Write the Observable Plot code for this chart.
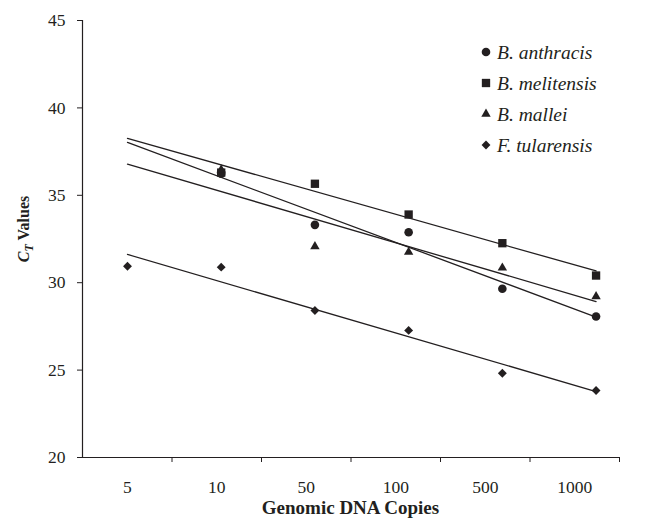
<!DOCTYPE html>
<html><head><meta charset="utf-8">
<script src="https://cdn.jsdelivr.net/npm/d3@7"></script>
<script src="https://cdn.jsdelivr.net/npm/@observablehq/plot@0.6"></script>
<style>
body{margin:0;background:#fff}
#wrap{width:646px;height:518px}
svg text{font-family:"Liberation Serif","Times New Roman",serif}
</style>
</head><body><div id="wrap"></div>
<script>
// ---- data ----
const copies = ["5", "10", "50", "100", "500", "1000"];
const seriesNames = ["B. anthracis", "B. melitensis", "B. mallei", "F. tularensis"];
const anthracis  = [null, 36.23, 33.31, 32.89, 29.65, 28.07];
const melitensis = [null, 36.30, 35.66, 33.90, 32.26, 30.41];
const mallei     = [null, 36.46, 32.07, 31.75, 30.85, 29.21];
const tularensis = [30.94, 30.89, 28.41, 27.27, 24.82, 23.83];
const yTicks = [20, 25, 30, 35, 40, 45];

// ---- config ----
const ink = "#231f20";
const xDomain = [0.52, 6.25];
const symbols = [d3.symbolCircle, d3.symbolSquare, d3.symbolTriangle, d3.symbolDiamond2];
const radii = [4.3, 4.7, 3.5, 4.0];
const valuesBySeries = [anthracis, melitensis, mallei, tularensis];

const rows = valuesBySeries.map((vals, s) =>
  vals.map((v, i) => ({series: seriesNames[s], s, x: i + 1, ct: v})).filter(d => d.ct != null));

// least-squares trend lines, extended over all categories
const trends = rows.map((pts, s) => {
  const mx = d3.mean(pts, d => d.x), my = d3.mean(pts, d => d.ct);
  const sxy = d3.sum(pts, d => (d.x - mx) * (d.ct - my));
  const sxx = d3.sum(pts, d => (d.x - mx) ** 2);
  const b = sxy / sxx, a = my - b * mx;
  return [1, copies.length].map(x => ({s, x, ct: a + b * x}));
});

const n = copies.length;
const band = (xDomain[1] - xDomain[0]) / n;
const labelPos = copies.map((c, i) => xDomain[0] + (i + 0.5) * band);
const boundaryPos = d3.range(1, n + 1).map(k => xDomain[0] + k * band);

const marks = [];
trends.forEach(t => marks.push(Plot.line(t, {x: "x", y: "ct", stroke: ink, strokeWidth: 1.3})));
rows.forEach((pts, s) => marks.push(Plot.dot(pts, {x: "x", y: "ct", symbol: symbols[s], r: radii[s], fill: ink, stroke: "none"})));

const plot = Plot.plot({
  width: 646, height: 518,
  marginLeft: 82, marginRight: 27, marginTop: 20, marginBottom: 61,
  style: {fontFamily: '"Liberation Serif", serif', fontSize: "17.5px", color: ink, background: "#fff"},
  x: {type: "linear", domain: xDomain},
  y: {domain: [20, 45]},
  marks: [
    Plot.ruleY([20], {stroke: ink, strokeWidth: 1.2}),
    Plot.ruleX([xDomain[0]], {stroke: ink, strokeWidth: 1.2}),
    Plot.axisY({ticks: yTicks, tickSize: 5, tickPadding: 12, label: null, stroke: ink, fill: ink}),
    Plot.axisX({ticks: labelPos, tickSize: 0, tickPadding: 23, tickFormat: (d, i) => copies[i], label: null, fill: ink}),
    Plot.axisX({ticks: boundaryPos, tickSize: 5, tickFormat: () => "", label: null, stroke: ink}),
    ...marks
  ]
});
document.getElementById("wrap").appendChild(plot);

const svg = d3.select(plot);
// axis titles
svg.append("text").attr("x", (82 + 619) / 2).attr("y", 514).attr("text-anchor", "middle")
  .attr("font-weight", "bold").attr("font-size", 19).attr("fill", ink).text("Genomic DNA Copies");
const yl = svg.append("text").attr("transform", "translate(29,229) rotate(-90)").attr("text-anchor", "middle")
  .attr("font-weight", "bold").attr("font-size", 16).attr("fill", ink);
yl.append("tspan").attr("font-style", "italic").text("C");
yl.append("tspan").attr("font-style", "italic").attr("font-size", 12).attr("dy", 4).text("T");
yl.append("tspan").attr("dy", -4).text(" Values");

// legend
const lg = svg.append("g").attr("transform", "translate(486,52)");
seriesNames.forEach((name, i) => {
  const g = lg.append("g").attr("transform", `translate(0,${i * 31})`);
  g.append("path").attr("d", d3.symbol(symbols[i], Math.PI * radii[i] ** 2)()).attr("fill", ink);
  g.append("text").attr("x", 11).attr("dy", "0.35em").attr("text-anchor", "start").attr("font-style", "italic")
    .attr("font-size", 19.5).attr("fill", ink).text(name);
});
</script>
</body></html>
